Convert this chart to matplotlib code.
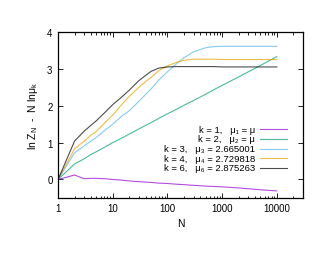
import matplotlib
matplotlib.use('Agg')
import matplotlib.pyplot as plt
from matplotlib.ticker import LogLocator, NullFormatter, FixedLocator

plt.rcParams['font.family'] = ['Liberation Sans', 'DejaVu Sans']
plt.rcParams['mathtext.fontset'] = 'custom'
plt.rcParams['mathtext.rm'] = 'Liberation Sans'
plt.rcParams['mathtext.it'] = 'Liberation Sans'

N = [1, 2, 3, 4, 5, 7, 10, 15, 20, 30, 50, 70, 100, 150, 200, 300, 500, 700, 1000, 2000, 5000, 10000]

k1 = [0, 0.12, 0.02, 0.03, 0.03, 0.02, 0.0, -0.02, -0.04, -0.06, -0.08, -0.10, -0.11, -0.13,
      -0.14, -0.16, -0.18, -0.19, -0.20, -0.23, -0.28, -0.31]
k2 = [0, 0.42, 0.56, 0.68, 0.75, 0.87, 1.0, 1.13, 1.23, 1.37, 1.54, 1.66, 1.78, 1.91,
      2.01, 2.14, 2.31, 2.43, 2.55, 2.78, 3.09, 3.33]
k3 = [0, 0.72, 0.91, 1.04, 1.14, 1.32, 1.5, 1.73, 1.86, 2.12, 2.45, 2.7, 2.92, 3.15,
      3.3, 3.46, 3.57, 3.6, 3.61, 3.61, 3.61, 3.61]
k4 = [0, 0.83, 1.04, 1.2, 1.3, 1.52, 1.75, 2.05, 2.25, 2.5, 2.77, 2.95, 3.08, 3.18,
      3.23, 3.26, 3.26, 3.26, 3.25, 3.25, 3.25, 3.25]
k6 = [0, 1.04, 1.31, 1.47, 1.59, 1.80, 2.03, 2.25, 2.42, 2.68, 2.93, 3.02, 3.05, 3.06,
      3.06, 3.06, 3.06, 3.06, 3.05, 3.05, 3.05, 3.05]

labels = ['k = 1,   μ₁ = μ',
          'k = 2,   μ₂ = μ',
          'k = 3,   μ₃ = 2.665001',
          'k = 4,   μ₄ = 2.729818',
          'k = 6,   μ₆ = 2.875263']
colors = ['#9400d3', '#009e73', '#56b4e9', '#e69f00', '#000000']

fig = plt.figure(figsize=(3.3, 2.55), dpi=100)
ax = fig.add_axes([0.176, 0.22, 0.742, 0.651])

for ys, c in zip([k1, k2, k3, k4, k6], colors):
    ax.plot(N, ys, color=c, lw=0.8, alpha=0.7)

# gnuplot-style key: text right aligned, sample on the right
key_y = 0.414
for lab, c in zip(labels, colors):
    ax.plot([0.824, 0.935], [key_y, key_y], color=c, lw=0.8, alpha=0.7, transform=ax.transAxes)
    ax.text(0.804, key_y - 0.015, lab, ha='right', va='baseline', fontsize=6.8,
            transform=ax.transAxes)
    key_y -= 0.0583

ax.set_xscale('log')
ax.set_xlim(1, 30000)
ax.set_ylim(-0.5, 4)
ax.xaxis.set_major_locator(FixedLocator([1, 10, 100, 1000, 10000]))
ax.set_xticklabels(['1', '10', '100', '1000', '10000'])
ax.xaxis.set_minor_locator(LogLocator(base=10, subs=range(2, 10), numticks=20))
ax.xaxis.set_minor_formatter(NullFormatter())
ax.set_yticks([0, 1, 2, 3, 4])

ax.tick_params(which='both', direction='in', top=True, right=True, labelsize=7, width=0.6)
ax.tick_params(which='major', length=3.5, pad=4)
ax.tick_params(which='minor', length=1.8)
for s in ax.spines.values():
    s.set_linewidth(0.9)

ax.set_xlabel('N', fontsize=7.5, labelpad=3)
ax.set_ylabel(r'ln Z$_\mathrm{N}$  -  N ln$\mu_\mathrm{k}$', fontsize=7.5, labelpad=5)

fig.savefig('out.png', dpi=100)
